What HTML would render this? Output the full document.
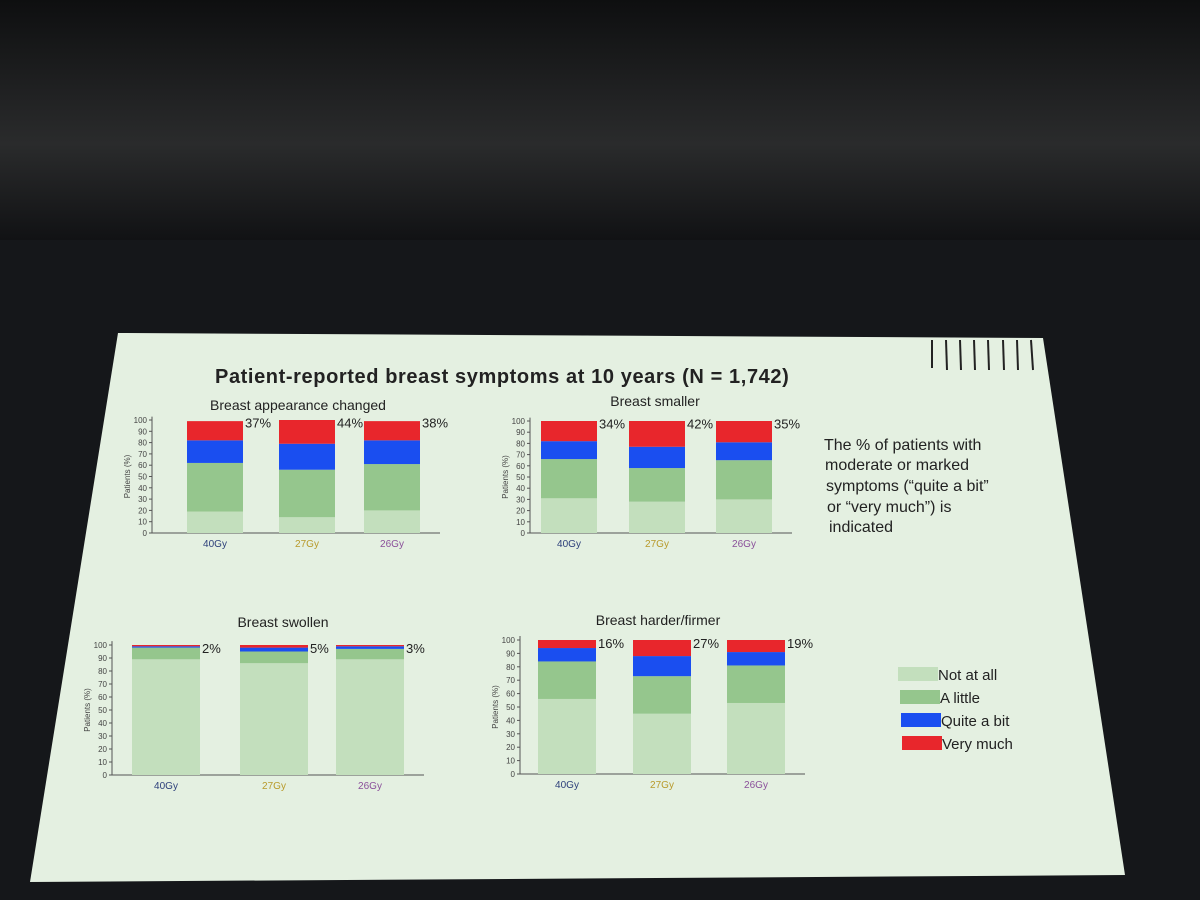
<!DOCTYPE html>
<html><head><meta charset="utf-8"><style>
html,body{margin:0;padding:0;background:#16181b;}
svg{display:block;font-family:"Liberation Sans",sans-serif;}
</style></head><body>
<svg width="1200" height="900" viewBox="0 0 1200 900">
<defs><linearGradient id="ceil" x1="0" y1="0" x2="0" y2="1"><stop offset="0" stop-color="#0e0f10"/><stop offset="0.6" stop-color="#2a2b2c"/><stop offset="1" stop-color="#111214"/></linearGradient></defs>
<rect x="0" y="0" width="1200" height="900" fill="#15171a"/>
<rect x="0" y="0" width="1200" height="240" fill="url(#ceil)"/>
<polygon points="118,333 1043,338 1125,875 30,882" fill="#e4f0e1"/>
<g stroke="#222" stroke-width="2">
<line x1="932" y1="340" x2="932" y2="368"/><line x1="946" y1="340" x2="947" y2="370"/><line x1="960" y1="340" x2="961" y2="370"/><line x1="974" y1="340" x2="975" y2="370"/><line x1="988" y1="340" x2="989" y2="370"/><line x1="1003" y1="340" x2="1004" y2="370"/><line x1="1017" y1="340" x2="1018" y2="370"/><line x1="1031" y1="340" x2="1033" y2="370"/>
</g>
<text x="215" y="383" font-size="20" font-weight="bold" letter-spacing="0.6" fill="#222">Patient-reported breast symptoms at 10 years (N = 1,742)</text>
<g font-size="16" fill="#222">
<text x="824" y="450">The % of patients with</text>
<text x="825" y="470">moderate or marked</text>
<text x="826" y="491">symptoms (“quite a bit”</text>
<text x="827" y="512">or “very much”) is</text>
<text x="829" y="532">indicated</text>
</g>
<g id="charts"></g>
<g font-size="15" fill="#222">
<rect x="898" y="667" width="40" height="14" fill="#c3dfbd"/><text x="938" y="680">Not at all</text>
<rect x="900" y="690" width="40" height="14" fill="#95c68d"/><text x="940" y="703">A little</text>
<rect x="901" y="713" width="40" height="14" fill="#1a4ef0"/><text x="941" y="726">Quite a bit</text>
<rect x="902" y="736" width="40" height="14" fill="#e8262c"/><text x="942" y="749">Very much</text>
</g>
</svg>
<script>
const groups = ["40Gy","27Gy","26Gy"];
const groupColors = ["#2c3f7a","#b89a2a","#8a4f9a"];
const panelTitles = ["Breast  appearance changed","Breast smaller","Breast swollen","Breast harder/firmer"];
const notAtAll = [[19,14,20],[31,28,30],[89,86,89],[56,45,53]];
const aLittle = [[43,42,41],[35,30,35],[9,9,8],[28,28,28]];
const quiteABit = [[20,23,21],[16,19,16],[1,3,2],[10,15,10]];
const veryMuch = [[17,21,17],[18,23,19],[1,2,1],[6,12,9]];
const pctLabels = [["37%","44%","38%"],["34%","42%","35%"],["2%","5%","3%"],["16%","27%","19%"]];
const yTicks = [0,10,20,30,40,50,60,70,80,90,100];
const NS="http://www.w3.org/2000/svg";
const panels = [
 {ax:152,y0:533,y100:420,bars:[187,279,364],bw:56,tx:298,ty:410},
 {ax:530,y0:533,y100:421,bars:[541,629,716],bw:56,tx:655,ty:406},
 {ax:112,y0:775,y100:645,bars:[132,240,336],bw:68,tx:283,ty:627},
 {ax:520,y0:774,y100:640,bars:[538,633,727],bw:58,tx:658,ty:625}
];
const root=document.getElementById('charts');
function mk(tag,attrs,parent){const e=document.createElementNS(NS,tag);for(const k in attrs)e.setAttribute(k,attrs[k]);parent.appendChild(e);return e;}
const series=[notAtAll,aLittle,quiteABit,veryMuch];
const colors=["#c3dfbd","#95c68d","#1a4ef0","#e8262c"];
const sNames=["not-at-all","a-little","quite-a-bit","very-much"];
panels.forEach((p,pi)=>{
 const g=mk('g',{},root);
 
 
 const y=v=>p.y0-(p.y0-p.y100)*v/100;
 const t=mk('text',{x:p.tx,y:p.ty,'font-size':14,'text-anchor':'middle',fill:'#222'},g);
 t.textContent=panelTitles[pi];
 
 
 const ax=mk('line',{x1:p.ax,y1:y(103),x2:p.ax,y2:p.y0,stroke:'#555','stroke-width':1},g);
 
 
 const xa=mk('line',{x1:p.ax,y1:p.y0,x2:p.bars[2]+p.bw+20,y2:p.y0,stroke:'#555','stroke-width':1},g);
 
 
 yTicks.forEach(v=>{
  mk('line',{x1:p.ax-3,y1:y(v),x2:p.ax,y2:y(v),stroke:'#555'},g);
  const tl=mk('text',{x:p.ax-5,y:y(v)+3,'font-size':8,'text-anchor':'end',fill:'#444'},g);
  tl.textContent=v;
  
  
 });
 const yt=mk('text',{x:0,y:0,'font-size':8,'text-anchor':'middle',fill:'#444',transform:`translate(${p.ax-22},${(p.y0+p.y100)/2}) rotate(-90)`},g);
 yt.textContent='Patients (%)';
 
 
 groups.forEach((gr,gi)=>{
  let cum=0;
  series.forEach((s,si)=>{
   const v=s[pi][gi];
   const r=mk('rect',{x:p.bars[gi],y:y(cum+v),width:p.bw,height:y(cum)-y(cum+v),fill:colors[si]},g);
   
   
   cum+=v;
  });
  const pl=mk('text',{x:p.bars[gi]+p.bw+2,y:y(97)+4,'font-size':13,fill:'#222'},g);
  pl.textContent=pctLabels[pi][gi];
  
  
  const xl=mk('text',{x:p.bars[gi]+p.bw/2,y:p.y0+14,'font-size':10,'text-anchor':'middle',fill:groupColors[gi]},g);
  xl.textContent=gr;
  
  
 });
});
</script>
</body></html>
